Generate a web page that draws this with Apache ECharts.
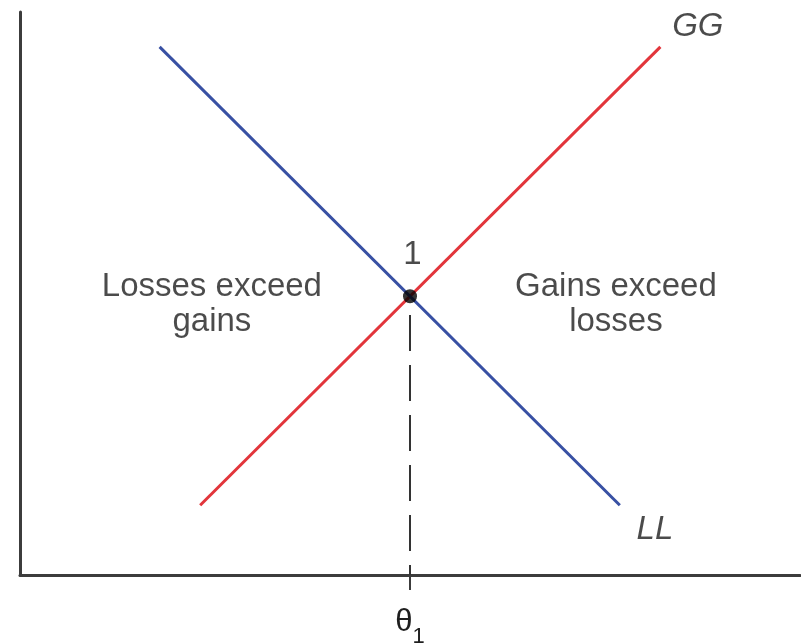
<!DOCTYPE html>
<html>
<head>
<meta charset="utf-8">
<script src="https://cdn.jsdelivr.net/npm/echarts@6/dist/echarts.min.js"></script>
<style>html,body{margin:0;padding:0;background:#fff}#c{width:801px;height:644px}</style>
</head>
<body>
<div id="c"></div>
<script>
// Curve endpoints (data units: x 0..100, y 0..100)
const ggLine = [[23.1, 12.4], [82.1, 93.8]];
const llLine = [[17.9, 93.8], [76.9, 12.4]];
const equilibrium = [[50, 49.5]];
const thetaValue = 50;
const dashedDrop = [[50, 46.2], [50, 0]];
const tickLabels = ['θ1'];
// annotation texts with anchor points in data units
const annotations = [
  {name: 'Losses exceed\ngains', value: [24.6, 48.1], italic: false},
  {name: 'Gains exceed\nlosses', value: [76.4, 48.1], italic: false},
  {name: 'GG', value: [86.9, 97.4], italic: true},
  {name: 'LL', value: [81.4, 8.0], italic: true},
  {name: '1', value: [50.3, 56.8], italic: false}
];

const chart = echarts.init(document.getElementById('c'));
const axisColor = '#3c3c3c';
const textColor = '#1e1e1e';
const font = '"Liberation Sans", Arial, Helvetica, sans-serif';
chart.setOption({
  animation: false,
  grid: {left: 20, right: 1, top: 12, bottom: 69, outerBoundsMode: 'none', containLabel: false},
  xAxis: {
    type: 'value', min: 0, max: 100,
    splitLine: {show: false},
    axisLine: {show: true, lineStyle: {color: axisColor, width: 3}},
    axisTick: {show: true, customValues: [thetaValue], length: 15, lineStyle: {color: axisColor, width: 2}},
    axisLabel: {
      show: true, customValues: [thetaValue], margin: 32,
      formatter: () => '{a|θ}{b|' + tickLabels[0].slice(1) + '}',
      rich: {
        a: {fontFamily: font, fontSize: 31, color: textColor, verticalAlign: 'bottom'},
        b: {fontFamily: font, fontSize: 22, color: textColor, verticalAlign: 'bottom', padding: [0, 0, -10, 0]}
      }
    }
  },
  yAxis: {
    type: 'value', min: 0, max: 100,
    splitLine: {show: false},
    axisLine: {show: true, lineStyle: {color: axisColor, width: 3}},
    axisTick: {show: false},
    axisLabel: {show: false}
  },
  series: [
    {type: 'line', data: ggLine, symbol: 'none', lineStyle: {color: '#e2353b', width: 3, cap: 'butt'}, z: 3},
    {type: 'line', data: llLine, symbol: 'none', lineStyle: {color: '#3850a3', width: 3, cap: 'butt'}, z: 3},
    {type: 'line', data: dashedDrop, symbol: 'none', lineStyle: {color: '#333', width: 2, type: [36, 14]}, z: 2},
    {type: 'scatter', data: equilibrium, symbol: 'circle', symbolSize: 14, itemStyle: {color: '#000'}, z: 5},
    {
      type: 'scatter', symbolSize: 0, z: 6,
      data: annotations.map(a => ({
        name: a.name, value: a.value,
        label: {fontStyle: a.italic ? 'italic' : 'normal'}
      })),
      label: {
        show: true, position: 'inside', formatter: p => p.name,
        fontFamily: font, fontSize: 33, lineHeight: 35, color: textColor, align: 'center', verticalAlign: 'middle'
      }
    }
  ]
});
</script>
</body>
</html>
